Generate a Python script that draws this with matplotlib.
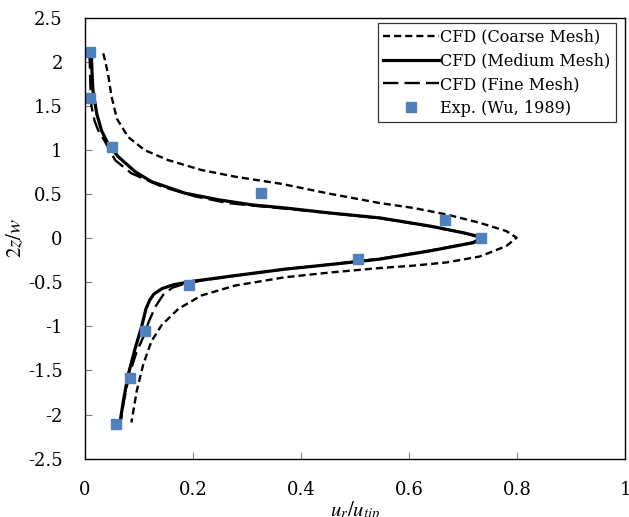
import numpy as np
import matplotlib.pyplot as plt

# CFD coarse mesh (x = ur/utip, y = 2z/w)
coarseX = [0.034, 0.038, 0.043, 0.049, 0.059, 0.080, 0.111, 0.154, 0.216, 0.278, 0.364, 0.45,
           0.546, 0.608, 0.67, 0.731, 0.78, 0.799, 0.78, 0.731, 0.67, 0.608, 0.546, 0.45, 0.37,
           0.278, 0.216, 0.173, 0.142, 0.123, 0.108, 0.096, 0.086]
coarseY = [2.10, 2.0, 1.86, 1.62, 1.36, 1.15, 1.0, 0.888, 0.775, 0.70, 0.618, 0.51, 0.40, 0.345,
           0.27, 0.176, 0.082, 0.007, -0.087, -0.206, -0.273, -0.31, -0.337, -0.39, -0.442,
           -0.536, -0.648, -0.80, -0.985, -1.17, -1.43, -1.73, -2.09]

# CFD medium mesh
mediumX = [0.012, 0.013, 0.015, 0.022, 0.031, 0.043, 0.062, 0.093, 0.123, 0.185, 0.247, 0.309,
           0.37, 0.45, 0.546, 0.639, 0.70, 0.738, 0.719, 0.639, 0.546, 0.45, 0.37, 0.278, 0.2,
           0.165, 0.143, 0.128, 0.12, 0.113, 0.105, 0.093, 0.08, 0.071, 0.065]
mediumY = [2.09, 1.9, 1.67, 1.41, 1.22, 1.07, 0.925, 0.756, 0.644, 0.513, 0.438, 0.38, 0.345,
           0.29, 0.232, 0.139, 0.064, 0.007, -0.049, -0.142, -0.236, -0.30, -0.35, -0.423,
           -0.487, -0.525, -0.57, -0.63, -0.70, -0.8, -1.0, -1.25, -1.55, -1.85, -2.09]

# CFD fine mesh
fineX = [0.008, 0.009, 0.010, 0.012, 0.018, 0.025, 0.037, 0.056, 0.086, 0.142, 0.204, 0.265,
         0.33, 0.40, 0.546, 0.639, 0.70, 0.735, 0.716, 0.636, 0.546, 0.45, 0.37, 0.278, 0.22,
         0.185, 0.162, 0.145, 0.13, 0.118, 0.108, 0.095, 0.082, 0.072, 0.066]
fineY = [2.10, 2.0, 1.75, 1.5, 1.33, 1.22, 1.1, 0.887, 0.738, 0.588, 0.476, 0.40, 0.36, 0.32,
         0.228, 0.137, 0.063, 0.007, -0.049, -0.142, -0.232, -0.298, -0.35, -0.425, -0.475,
         -0.515, -0.56, -0.64, -0.78, -0.95, -1.12, -1.3, -1.55, -1.85, -2.09]

# Experiment (Wu, 1989)
expX = [0.009, 0.009, 0.051, 0.326, 0.666, 0.733, 0.506, 0.193, 0.112, 0.083, 0.057]
expY = [2.11, 1.59, 1.04, 0.51, 0.205, 0.0, -0.23, -0.53, -1.05, -1.58, -2.11]

xTickLabels = ['0', '0.2', '0.4', '0.6', '0.8', '1']
yTickLabels = ['-2.5', '-2', '-1.5', '-1', '-0.5', '0', '0.5', '1', '1.5', '2', '2.5']

plt.rcParams['font.family'] = 'DejaVu Serif'
plt.rcParams['mathtext.fontset'] = 'stix'

fig = plt.figure(figsize = (6.29, 5.17), dpi = 100)
ax = fig.add_axes([0.135, 0.113, 0.859, 0.852])

ax.plot(coarseX, coarseY, color = 'black', lw = 1.7, ls = (0, (3.0, 1.7)), label = 'CFD (Coarse Mesh)')
ax.plot(mediumX, mediumY, color = 'black', lw = 2.3, ls = '-', label = 'CFD (Medium Mesh)')
ax.plot(fineX, fineY, color = 'black', lw = 1.7, ls = (0, (6.5, 2.6)), label = 'CFD (Fine Mesh)')
ax.plot(expX, expY, ls = 'none', marker = 's', ms = 7, color = '#4F81BD', label = 'Exp. (Wu, 1989)')

ax.set_xlim(0, 1)
ax.set_ylim(-2.5, 2.5)
ax.set_xticks(np.linspace(0, 1, len(xTickLabels)))
ax.set_xticklabels(xTickLabels)
ax.set_yticks(np.linspace(-2.5, 2.5, len(yTickLabels)))
ax.set_yticklabels(yTickLabels)
ax.tick_params(direction = 'in', length = 5, color = '#808080', labelsize = 13)
ax.tick_params(axis = 'x', pad = 16)
ax.tick_params(axis = 'y', pad = 16)
for spine in ax.spines.values():
    spine.set_linewidth(1.0)
    spine.set_color('black')

ax.set_xlabel(r'$u_r/u_{tip}$', fontsize = 15, labelpad = 0)
ax.set_ylabel(r'$2z/w$', fontsize = 15, labelpad = 2)

leg = ax.legend(loc = 'upper right', fontsize = 11.5, frameon = True, fancybox = False,
                edgecolor = 'black', handlelength = 3.5, handletextpad = 0.05,
                borderpad = 0.35, labelspacing = 0.42, borderaxespad = 0,
                bbox_to_anchor = (0.983, 0.989))
leg.get_frame().set_linewidth(0.9)

plt.savefig('out.png', dpi = 100)
